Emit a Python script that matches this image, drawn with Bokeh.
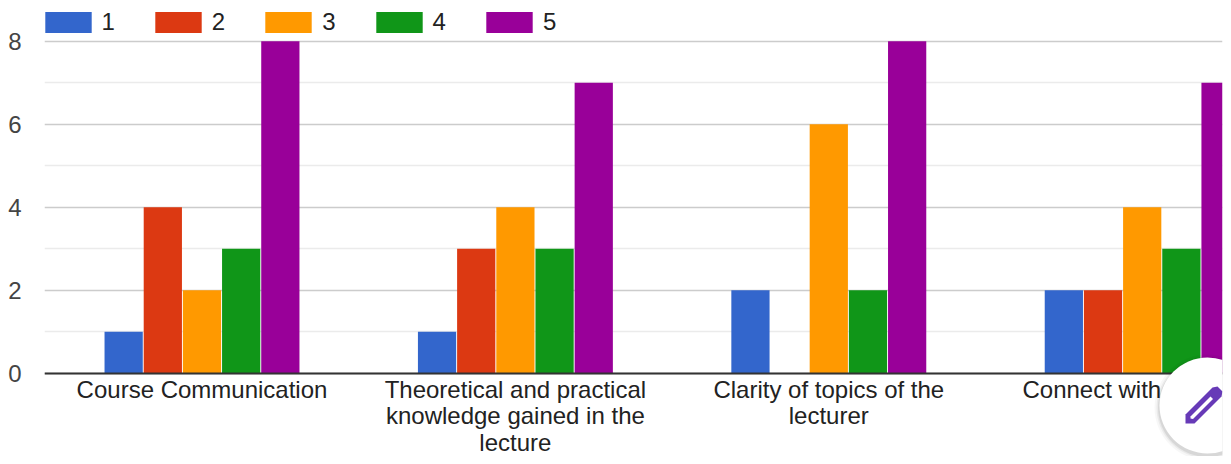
from bokeh.plotting import figure
from bokeh.models import Range1d, FixedTicker, Legend, LegendItem
from bokeh.transform import dodge
from bokeh.core.properties import value
from bokeh.embed import file_html
from bokeh.resources import INLINE

# data
categories = [0, 1, 2, 3]
cat_labels = ["Course Communication",
              "Theoretical and practical\nknowledge gained in the\nlecture",
              "Clarity of topics of the\nlecturer"]
last_label = "Connect with"
s1 = [1, 1, 2, 2]
s2 = [4, 3, 0, 2]
s3 = [2, 4, 6, 4]
s4 = [3, 3, 2, 3]
s5 = [8, 7, 8, 7]
names = ["1", "2", "3", "4", "5"]
colors = ["#3366cc", "#dc3912", "#ff9900", "#109618", "#990099"]

FONT = "Liberation Sans"
W, H = 1223, 456

# picture-pixel <-> data helpers
X0, XS = 201.5, 313.4
Y0, YS = 372.7, 41.5
px = lambda x: (x - X0) / XS
py = lambda y: (Y0 - y) / YS

p = figure(width=W, height=H, output_backend="svg", toolbar_location=None,
           x_range=Range1d(px(44), px(1222)), y_range=Range1d(py(456), py(0)),
           min_border_left=44, min_border_right=1, min_border_top=0, min_border_bottom=0,
           x_axis_location=None, outline_line_color=None, background_fill_color="white")

p.xgrid.visible = False
p.ygrid.ticker = FixedTicker(ticks=[0, 2, 4, 6, 8], minor_ticks=[1, 3, 5, 7])
p.ygrid.grid_line_color = "#cccccc"
p.ygrid.grid_line_width = 1.3
p.ygrid.minor_grid_line_color = "#ebebeb"
p.ygrid.minor_grid_line_width = 1.3

ax = p.yaxis[0]
ax.ticker = FixedTicker(ticks=[0, 2, 4, 6, 8])
ax.axis_line_color = None
ax.major_tick_line_color = None
ax.minor_tick_line_color = None
ax.major_tick_out = 0
ax.major_tick_in = 0
ax.minor_tick_out = 0
ax.minor_tick_in = 0
ax.major_label_standoff = 23
ax.major_label_text_font = FONT
ax.major_label_text_font_size = "24px"
ax.major_label_text_color = "#444444"

src = dict(x=categories, s1=s1, s2=s2, s3=s3, s4=s4, s5=s5)
step, bw = 0.125, 0.122
items = []
for i, (k, c, n) in enumerate(zip(["s1", "s2", "s3", "s4", "s5"], colors, names)):
    r = p.vbar(x=dodge("x", (i - 2) * step), top=k, width=bw, bottom=0, source=src,
               fill_color=c, line_color=None)
    items.append(LegendItem(label=n, renderers=[r]))

p.hspan(y=[0], line_color="#333333", line_width=2)

leg = Legend(items=items, orientation="horizontal", location=(-5.5, 420),
             glyph_width=58, glyph_height=26, label_standoff=5, spacing=34, label_width=13,
             padding=0, margin=0, background_fill_alpha=0, border_line_color=None,
             label_text_font=FONT, label_text_font_size="24px", label_text_color="#222222")
p.add_layout(leg, "center")

# category labels
p.text(x=categories[:3], y=[0, 0, 0], text=cat_labels, y_offset=3,
       text_align="center", text_baseline="top", text_line_height=0.97,
       text_font=value(FONT), text_font_size="24px", text_color="#222222")
p.text(x=categories[3:], y=[0], text=[last_label], x_offset=19, y_offset=3,
       text_align="right", text_baseline="top",
       text_font=value(FONT), text_font_size="24px", text_color="#222222")

# floating edit button
cx, cy, R = 1207, 405, 48
for extra, a in [(5, 0.03), (3, 0.05), (1.5, 0.08)]:
    p.scatter([px(cx)], [py(cy + 2)], size=2 * (R + extra), marker="circle",
              fill_color="black", fill_alpha=a, line_color=None)
p.scatter([px(cx)], [py(cy)], size=2 * R, marker="circle", fill_color="white", line_color=None)
pen = [(1185, 423), (1185, 414), (1212, 387), (1217, 386), (1222, 391), (1221, 396), (1194, 423)]
p.patch([px(a) for a, b in pen], [py(b) for a, b in pen], fill_color="#673ab7", line_color=None)
inner = [(1190, 418), (1190, 416), (1210, 396), (1212.5, 398.5), (1192.5, 418.5)]
p.patch([px(a) for a, b in inner], [py(b) for a, b in inner], fill_color="white", line_color=None)

open("out.html", "w").write(file_html(p, INLINE))
